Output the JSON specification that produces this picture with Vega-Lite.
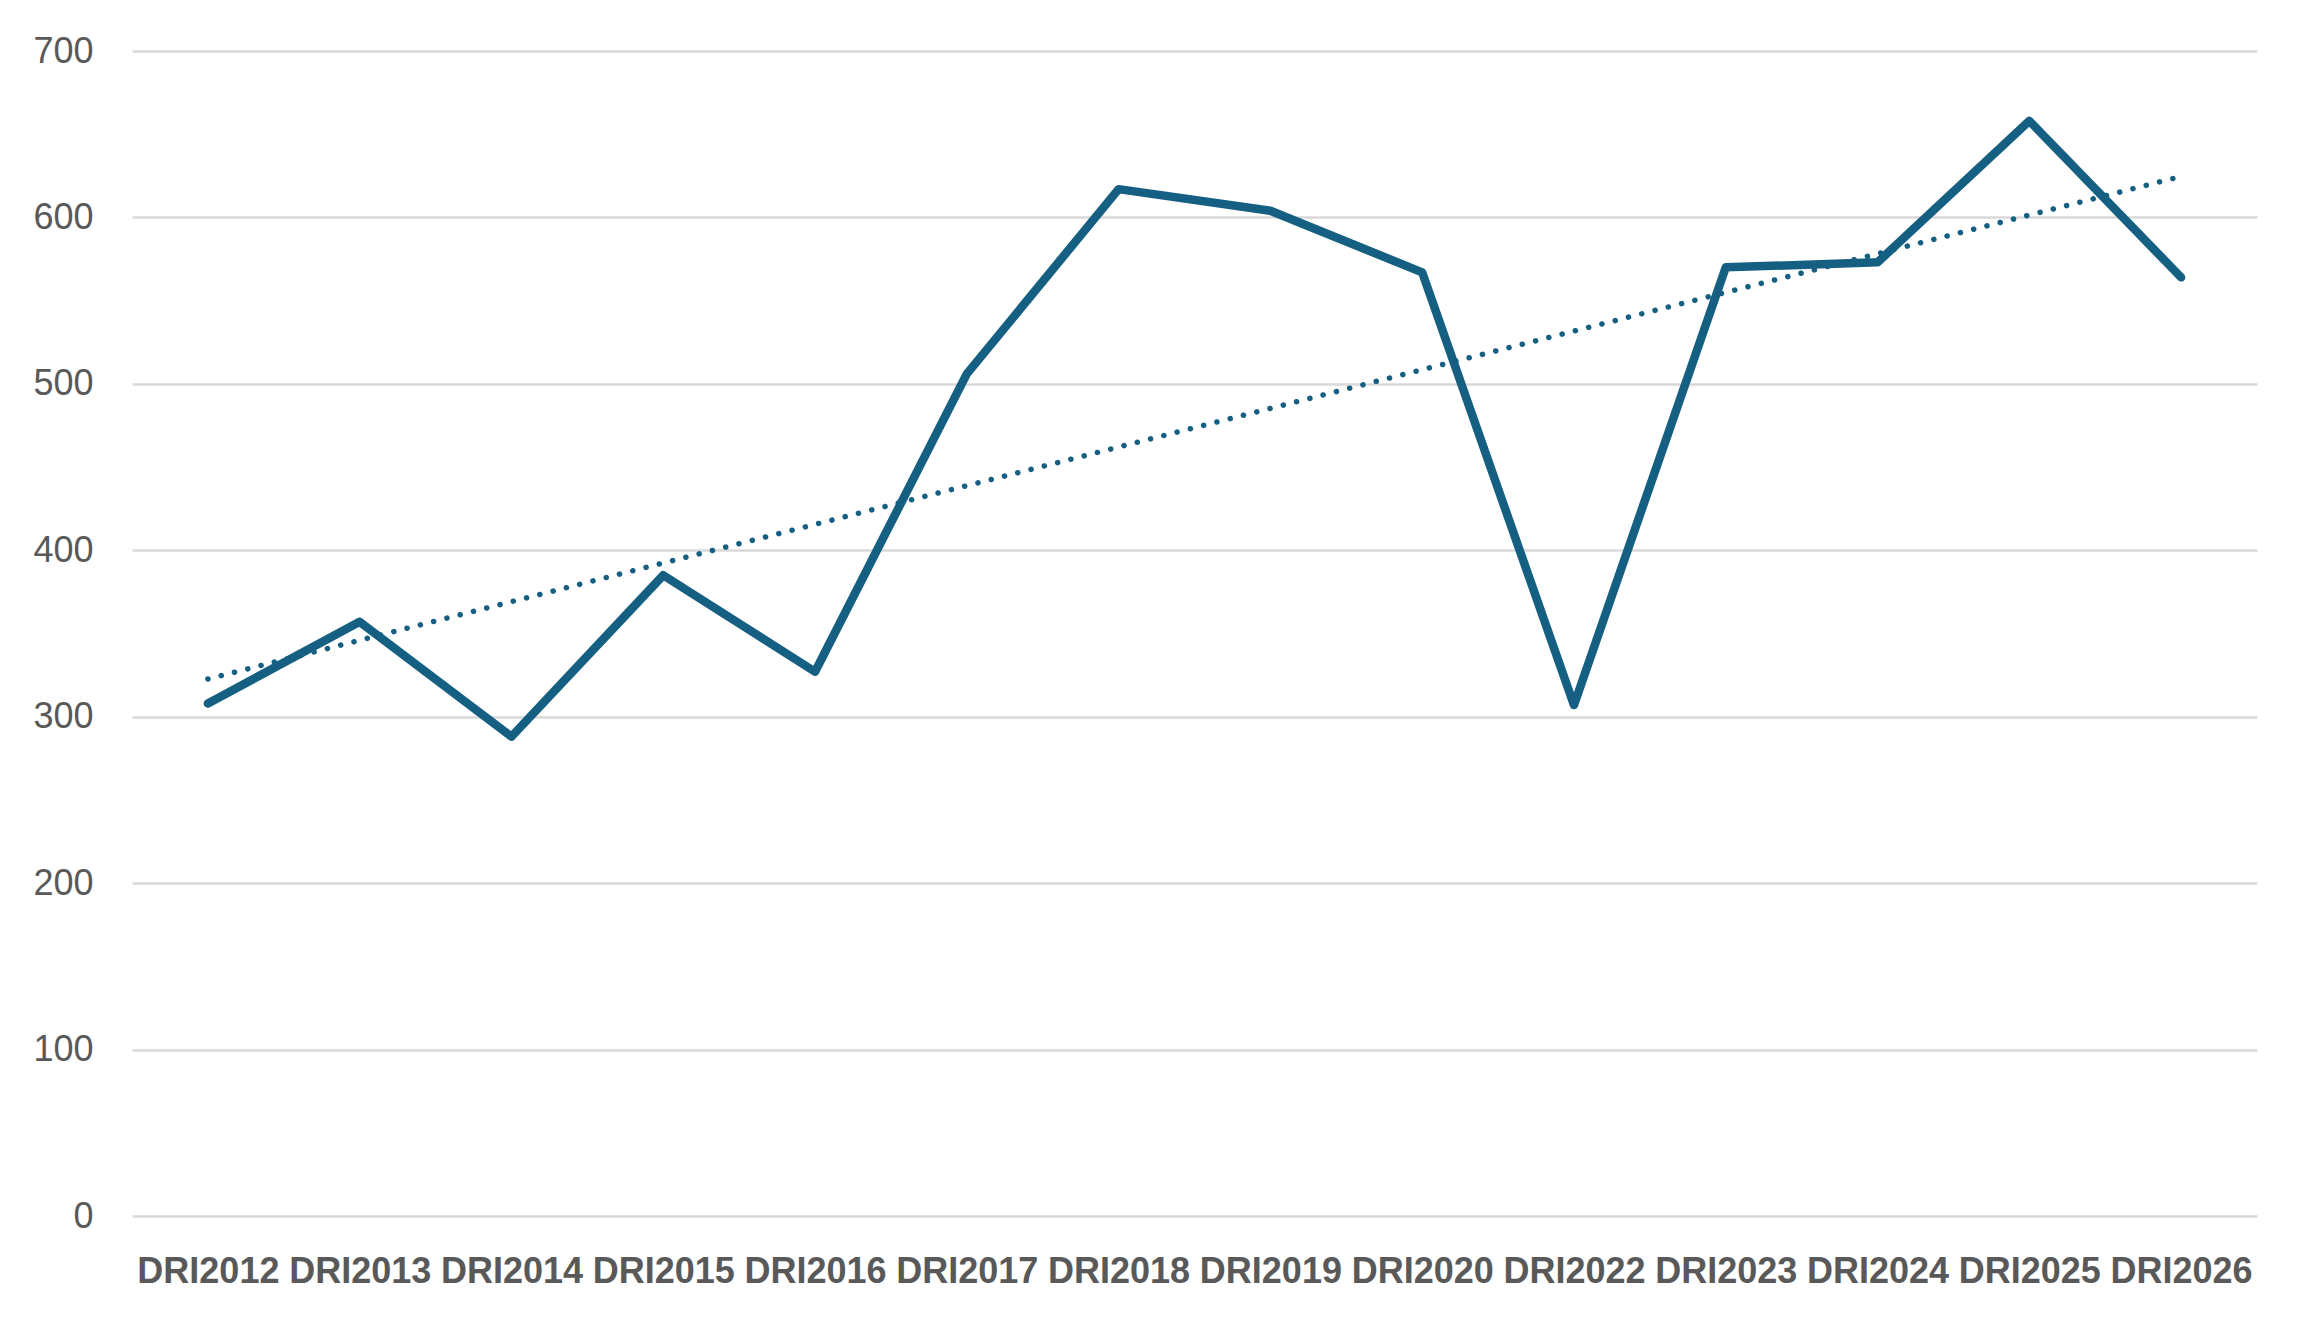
{
  "$schema": "https://vega.github.io/schema/vega-lite/v6.json",
  "width": 2125,
  "height": 1165,
  "autosize": {"type": "none"},
  "padding": {"left": 132, "top": 51, "right": 52, "bottom": 108},
  "background": "white",
  "config": {
    "view": {"stroke": null},
    "font": "Liberation Sans"
  },
  "data": {
    "values": [
      {"i": 0, "label": "DRI2012", "value": 308},
      {"i": 1, "label": "DRI2013", "value": 357},
      {"i": 2, "label": "DRI2014", "value": 288},
      {"i": 3, "label": "DRI2015", "value": 385},
      {"i": 4, "label": "DRI2016", "value": 327},
      {"i": 5, "label": "DRI2017", "value": 506},
      {"i": 6, "label": "DRI2018", "value": 617},
      {"i": 7, "label": "DRI2019", "value": 604},
      {"i": 8, "label": "DRI2020", "value": 567},
      {"i": 9, "label": "DRI2022", "value": 307},
      {"i": 10, "label": "DRI2023", "value": 570},
      {"i": 11, "label": "DRI2024", "value": 573},
      {"i": 12, "label": "DRI2025", "value": 658},
      {"i": 13, "label": "DRI2026", "value": 564}
    ]
  },
  "encoding": {
    "y": {
      "field": "value",
      "type": "quantitative",
      "scale": {"domain": [0, 700], "nice": false},
      "axis": {
        "title": null,
        "values": [0, 100, 200, 300, 400, 500, 600, 700],
        "labelFont": "Liberation Sans",
        "labelFontSize": 36,
        "labelColor": "#595959",
        "labelPadding": 39,
        "ticks": false,
        "domain": false,
        "gridColor": "#d9d9d9",
        "gridWidth": 2.5
      }
    }
  },
  "layer": [
    {
      "mark": {"type": "line", "color": "#156082", "strokeWidth": 8.5, "strokeCap": "round", "strokeJoin": "round"},
      "encoding": {
        "x": {
          "field": "label",
          "type": "ordinal",
          "sort": null,
          "scale": {"type": "point", "padding": 0.5},
          "axis": {
            "title": null,
            "labelAngle": 0,
            "labelFont": "Liberation Sans",
            "labelFontSize": 36,
            "labelFontWeight": "bold",
            "labelColor": "#595959",
            "labelPadding": 38,
            "ticks": false,
            "domain": false,
            "grid": false
          }
        }
      }
    },
    {
      "transform": [{"regression": "value", "on": "i"}],
      "mark": {"type": "line", "color": "#156082", "strokeWidth": 5.5, "strokeCap": "round", "strokeDash": [0.1, 13.6]},
      "encoding": {
        "x": {
          "field": "i",
          "type": "quantitative",
          "scale": {"domain": [-0.5, 13.5], "nice": false, "zero": false},
          "axis": null
        }
      }
    }
  ],
  "resolve": {"scale": {"x": "independent"}}
}
